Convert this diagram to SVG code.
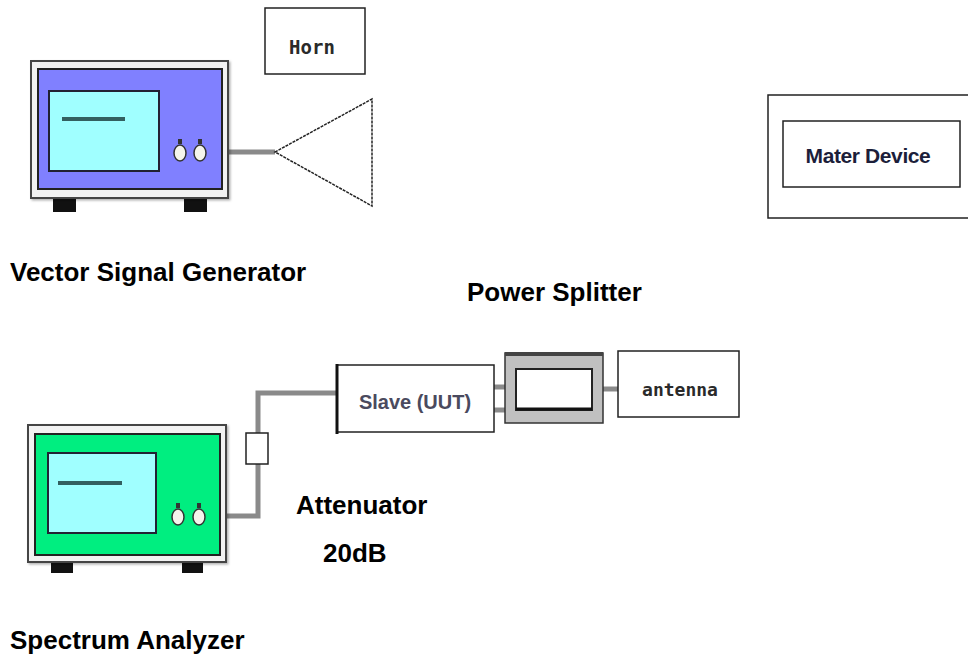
<svg xmlns="http://www.w3.org/2000/svg" width="968" height="660" viewBox="0 0 968 660">
<defs>
<style>
.bezel{fill:#f2f2f2;stroke:#444;stroke-width:2}
.panel{stroke:#222;stroke-width:2}
.screen{fill:#a0ffff;stroke:#223;stroke-width:2}
.trace{stroke:#336060;stroke-width:4}
.knob{fill:#f4f4ec;stroke:#333;stroke-width:1.5}
.foot{fill:#111}
.box{fill:#fff;stroke:#222;stroke-width:1.5}
.cable{fill:none;stroke:#8a8a8a;stroke-width:5}
.lbl{font-family:"Liberation Sans",Arial,sans-serif;font-weight:bold;font-size:26px;fill:#000}
.mono{font-family:"DejaVu Sans Mono",monospace;font-weight:bold;fill:#2a2a2a}
</style>
<filter id="sh" x="-5%" y="-5%" width="115%" height="115%">
<feDropShadow dx="1.5" dy="1.5" stdDeviation="1" flood-color="#000" flood-opacity="0.3"/>
</filter>
</defs>

<g id="connectors">
<line class="cable" x1="205" y1="152" x2="275" y2="152"/>
<polyline class="cable" points="203,516 258,516 258,393 337,393"/>
<line class="cable" x1="494" y1="387" x2="506" y2="387"/>
<line class="cable" x1="494" y1="410" x2="506" y2="410"/>
<line class="cable" x1="603" y1="389" x2="618" y2="389"/>
</g>

<g id="vector-signal-generator">
<rect class="foot" x="53" y="197" width="23" height="15"/>
<rect class="foot" x="184" y="197" width="23" height="15"/>
<rect class="bezel" x="31" y="61" width="197" height="137" filter="url(#sh)"/>
<rect class="panel" x="38" y="69" width="184" height="120" fill="#8080ff"/>
<rect class="screen" x="49" y="91" width="110" height="80"/>
<line class="trace" x1="62" y1="119" x2="125" y2="119"/>
<rect x="178" y="139" width="4" height="5" fill="#333"/>
<rect x="198" y="139" width="4" height="5" fill="#333"/>
<ellipse class="knob" cx="180" cy="153" rx="6" ry="8"/>
<ellipse class="knob" cx="200" cy="153" rx="6" ry="8"/>
</g>

<g id="horn-label">
<rect class="box" x="265" y="8" width="100" height="66"/>
<text class="mono" x="312" y="54" text-anchor="middle" font-size="19">Horn</text>
</g>

<g id="horn-antenna">
<polygon points="275,152 372,99 372,206" fill="#fff" stroke="#222" stroke-width="1.5" stroke-dasharray="3 1"/>
</g>

<g id="mater-device">
<rect class="box" x="768" y="95" width="205" height="123"/>
<rect class="box" x="783" y="121" width="177" height="66" stroke-width="2"/>
<text x="868" y="163" text-anchor="middle" font-family="'Liberation Sans',Arial,sans-serif" font-weight="bold" font-size="21" letter-spacing="-0.4" fill="#1c1e3a">Mater Device</text>
</g>

<g id="spectrum-analyzer">
<rect class="foot" x="51" y="561" width="22" height="12"/>
<rect class="foot" x="182" y="561" width="21" height="12"/>
<rect class="bezel" x="28" y="425" width="198" height="137" filter="url(#sh)"/>
<rect class="panel" x="35" y="434" width="185" height="121" fill="#00ee80"/>
<rect class="screen" x="48" y="453" width="108" height="80"/>
<line class="trace" x1="58" y1="483" x2="122" y2="483"/>
<rect x="176" y="503" width="4" height="5" fill="#333"/>
<rect x="197" y="503" width="4" height="5" fill="#333"/>
<ellipse class="knob" cx="178" cy="517" rx="6" ry="8"/>
<ellipse class="knob" cx="199" cy="517" rx="6" ry="8"/>
</g>

<g id="attenuator">
<rect class="box" x="246" y="433" width="22" height="31"/>
</g>

<g id="slave-uut">
<rect class="box" x="337" y="365" width="157" height="67"/>
<line x1="337" y1="364" x2="337" y2="434" stroke="#111" stroke-width="3"/>
<text x="415" y="409" text-anchor="middle" font-family="'Liberation Sans',Arial,sans-serif" font-weight="bold" font-size="20" fill="#4a4a5e">Slave (UUT)</text>
</g>

<g id="power-splitter">
<rect x="505" y="353" width="98" height="70" fill="#c0c0c0" stroke="#333" stroke-width="1.5"/>
<line x1="505" y1="354" x2="603" y2="354" stroke="#444" stroke-width="4"/>
<rect x="516" y="369" width="76" height="41" fill="#fff" stroke="#222" stroke-width="2"/>
<line x1="516" y1="409" x2="592" y2="409" stroke="#111" stroke-width="3"/>
</g>

<g id="antenna">
<rect class="box" x="618" y="351" width="121" height="66"/>
<text class="mono" x="680" y="396" text-anchor="middle" font-size="18">antenna</text>
</g>

<g id="labels">
<text class="lbl" x="10" y="281">Vector Signal Generator</text>
<text class="lbl" x="467" y="301">Power Splitter</text>
<text class="lbl" x="296" y="514" font-size="24.5">Attenuator</text>
<text class="lbl" x="323" y="562">20dB</text>
<text class="lbl" x="10" y="649">Spectrum Analyzer</text>
</g>
</svg>
